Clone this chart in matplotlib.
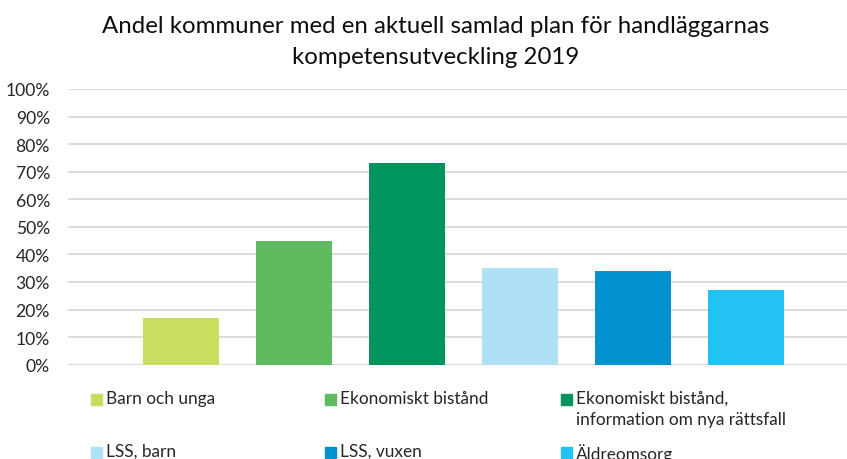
import matplotlib
matplotlib.use("Agg")
import matplotlib.pyplot as plt
from matplotlib.patches import Rectangle

categories = ["Barn och unga", "Ekonomiskt bistånd",
              "Ekonomiskt bistånd,\ninformation om nya rättsfall",
              "LSS, barn", "LSS, vuxen", "Äldreomsorg"]
values = [0.17, 0.45, 0.73, 0.35, 0.34, 0.27]
colors = ["#C9DD5E", "#5FBB5F", "#00955C", "#AEE0F6", "#0091CE", "#22C3F2"]
yticks = [0.0, 0.1, 0.2, 0.3, 0.4, 0.5, 0.6, 0.7, 0.8, 0.9, 1.0]
ytick_labels = ["0%", "10%", "20%", "30%", "40%", "50%", "60%", "70%", "80%", "90%", "100%"]
title = "Andel kommuner med en aktuell samlad plan för handläggarnas\nkompetensutveckling 2019"

plt.rcParams['font.family'] = ['Lato', 'DejaVu Sans']
W, H = 847, 460
fig = plt.figure(figsize=(W / 100, H / 100), dpi=100)
ax = fig.add_axes([68 / W, (H - 365.7) / H, (W - 68) / W, (365.7 - 90) / H])
x = list(range(len(values)))
ax.bar(x, values, width=0.67, color=colors, zorder=3)
ax.set_xlim(-1, 5.894)
ax.set_ylim(0, 1)
ax.set_yticks(yticks, ytick_labels)
ax.yaxis.grid(True, color="#D9D9D9", linewidth=1.3, zorder=0)
for s in ax.spines.values():
    s.set_visible(False)
ax.tick_params(axis='y', length=0, pad=13, labelsize=12.6, labelcolor='#262626')
ax.set_xticks([])

fig.text(436 / W, 1 - 63.5 / H, title, ha='center', va='baseline', fontsize=17.3,
         color='#0d0d0d', linespacing=1.55, multialignment='center')

# legend (3 columns, 2 rows)
col_x = [91, 325, 561]
row_y = [400, 453]
for i, (lab, c) in enumerate(zip(categories, colors)):
    cx = col_x[i % 3]
    cy = row_y[i // 3]
    fig.patches.append(Rectangle((cx / W, 1 - (cy + 5.5) / H), 11 / W, 11 / H,
                                 transform=fig.transFigure, color=c, figure=fig))
    fig.text((cx + 15) / W, 1 - (cy - 9) / H, lab, ha='left', va='top',
             fontsize=12.4, color='#262626', linespacing=1.42)

fig.savefig("out.png", dpi=100)
